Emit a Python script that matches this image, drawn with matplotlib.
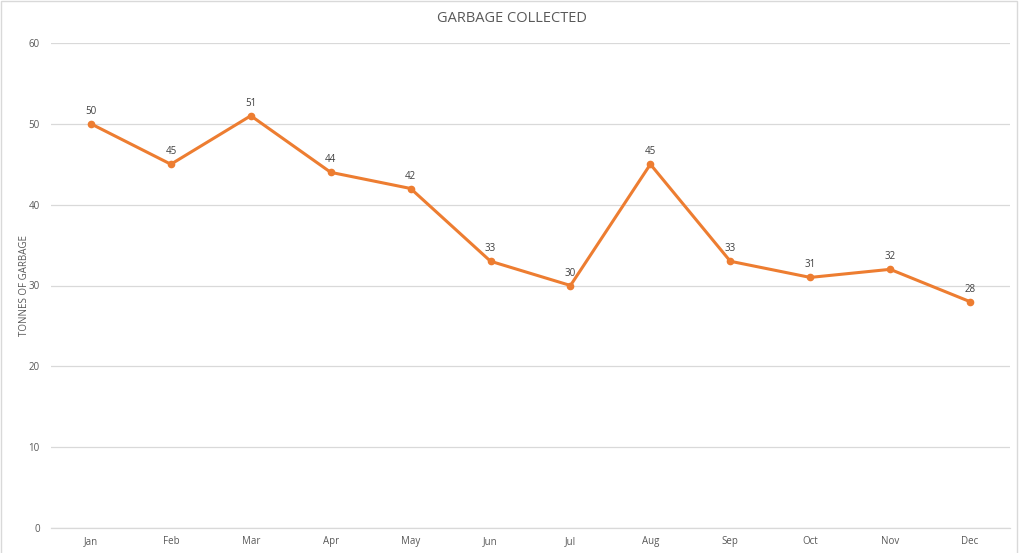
import matplotlib.pyplot as plt
from matplotlib.patches import Rectangle

months = ['Jan', 'Feb', 'Mar', 'Apr', 'May', 'Jun',
          'Jul', 'Aug', 'Sep', 'Oct', 'Nov', 'Dec']
tonnes = [50, 45, 51, 44, 42, 33, 30, 45, 33, 31, 32, 28]
y_ticks = [0, 10, 20, 30, 40, 50, 60]

plt.rcParams['font.family'] = ['Open Sans', 'DejaVu Sans']

fig = plt.figure(figsize=(10.24, 5.53), dpi=100)
ax = fig.add_axes([51 / 1024, 1 - 528 / 553, 959 / 1024, 485 / 553])

x = list(range(len(months)))
ax.plot(x, tonnes, color='#ED7D31', linewidth=2.2, marker='o',
        markersize=4.5, zorder=3)
for xi, v in zip(x, tonnes):
    ax.annotate(str(v), (xi, v), xytext=(0, 5), textcoords='offset points',
                ha='center', va='bottom', fontsize=7, color='#404040')

ax.set_xlim(-0.5, len(months) - 0.5)
ax.set_ylim(0, 60)
ax.set_yticks(y_ticks)
ax.set_xticks(x)
ax.set_xticklabels(months)
ax.grid(axis='y', color='#D9D9D9', linewidth=0.9)
ax.set_axisbelow(True)
for s in ['top', 'right', 'left']:
    ax.spines[s].set_visible(False)
ax.spines['bottom'].set_color('#D9D9D9')
ax.spines['bottom'].set_linewidth(0.9)
ax.tick_params(axis='y', length=0, labelsize=7, colors='#595959', pad=8)
ax.tick_params(axis='x', length=0, labelsize=7, colors='#595959', pad=6)

ax.set_ylabel('TONNES OF GARBAGE', fontsize=7, color='#595959')
ax.yaxis.set_label_coords(-0.022, 0.5)
fig.text(512 / 1024, 1 - 19 / 553, 'GARBAGE COLLECTED', ha='center',
         va='center', fontsize=10.5, color='#595959')

# light border around the chart area
fig.patches.append(Rectangle((1 / 1024, -0.01), 1016 / 1024, 1 - 1 / 553 + 0.01,
                             transform=fig.transFigure, fill=False,
                             edgecolor='#D9D9D9', linewidth=1))

fig.savefig('out.png', dpi=100)
